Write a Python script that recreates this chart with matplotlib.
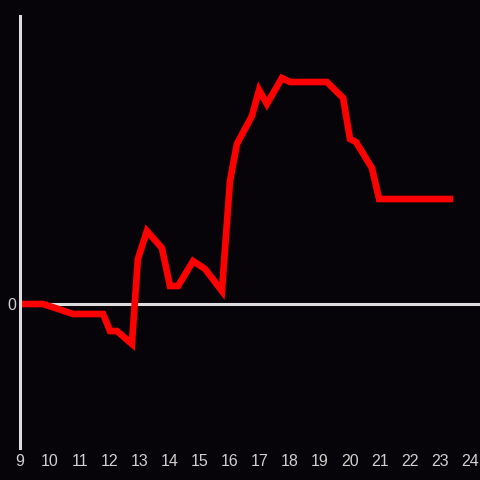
import matplotlib
matplotlib.use("Agg")
import matplotlib.pyplot as plt

# hours of day and value relative to start
hours = [9.0, 9.77, 10.77, 11.77, 12.0, 12.23, 12.73, 12.93, 13.23, 13.73,
         14.0, 14.27, 14.77, 15.17, 15.73, 16.0, 16.23, 16.73, 16.97, 17.23,
         17.73, 18.0, 19.23, 19.77, 20.0, 20.2, 20.73, 20.97, 23.33]
values = [0.0, 0.0, -1.0, -1.0, -2.7, -2.7, -4.0, 4.5, 7.3, 5.6,
          1.8, 1.8, 4.3, 3.5, 1.3, 12.3, 16.0, 18.8, 21.4, 20.0,
          22.6, 22.2, 22.2, 20.6, 16.5, 16.2, 13.6, 10.5, 10.5]
xticks = list(range(9, 25))

bg = "#060408"
fg = "#dcdcdc"

fig = plt.figure(figsize=(4.8, 4.8), dpi=100, facecolor=bg)
ax = fig.add_axes([20 / 480, 32 / 480, 460 / 480, 432 / 480], facecolor=bg)

ax.axhline(0, color=fg, lw=2.2, zorder=1)
ax.plot(hours, values, color="#ff0000", lw=4.8, solid_joinstyle="miter", zorder=2)

ax.set_xlim(9, 24 + 10 / 30)
ax.set_ylim(-14.4, 28.8)

for s in ["top", "right", "bottom"]:
    ax.spines[s].set_visible(False)
ax.spines["left"].set_color(fg)
ax.spines["left"].set_linewidth(2.2)

ax.set_xticks(xticks)
ax.set_xticklabels([str(h) for h in xticks])
ax.set_yticks([0])
ax.set_yticklabels(["0"])
ax.tick_params(axis="both", length=0, colors="#cfcfcf", labelsize=11.5)
ax.tick_params(axis="x", pad=4.5)
ax.tick_params(axis="y", pad=3)
for lbl in ax.get_xticklabels() + ax.get_yticklabels():
    lbl.set_family("Liberation Sans")

fig.savefig("out.png", dpi=100, facecolor=bg)
